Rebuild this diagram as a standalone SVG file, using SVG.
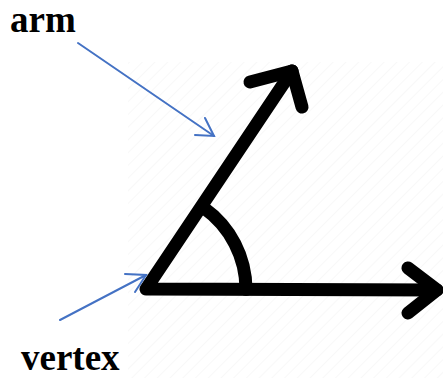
<svg xmlns="http://www.w3.org/2000/svg" width="443" height="378" viewBox="0 0 443 378">
  <style>
    .lbl { font-family: "Liberation Serif", "Times New Roman", serif; font-weight: bold; font-size: 37px; fill: #000; }
    .thick { fill: none; stroke: #000; stroke-width: 13; stroke-linecap: round; stroke-linejoin: round; }
    .blue { fill: none; stroke: #4472C4; stroke-width: 2; stroke-linecap: round; stroke-linejoin: miter; }
  </style>
  <defs>
    <pattern id="hatch" width="9" height="9" patternUnits="userSpaceOnUse" patternTransform="rotate(45)">
      <line x1="0" y1="0" x2="0" y2="9" stroke="#f2f2f2" stroke-width="1"/>
    </pattern>
  </defs>
  <rect width="443" height="378" fill="#ffffff"/>
  <rect x="128" y="62" width="315" height="316" fill="url(#hatch)"/>

  <g id="angle">
    <polyline class="thick" points="292,71 146,289 437,290"/>
    <polyline class="thick" points="250,82 292,71 302,107"/>
    <polyline class="thick" points="408,268 437,290 408,313"/>
    <path class="thick" d="M 204,208 A 100 100 0 0 1 246,289.5"/>
  </g>

  <g id="arm-label">
    <text class="lbl" x="10" y="32">arm</text>
  </g>
  <g id="vertex-label">
    <text class="lbl" x="21" y="370">vertex</text>
  </g>

  <g id="connectors">
    <line class="blue" x1="78" y1="43" x2="214" y2="136"/>
    <polyline class="blue" points="195,135 214,136 205,118"/>
    <line class="blue" x1="60" y1="320" x2="146" y2="275"/>
    <polyline class="blue" points="125,274 146,275 135,292"/>
  </g>
</svg>
